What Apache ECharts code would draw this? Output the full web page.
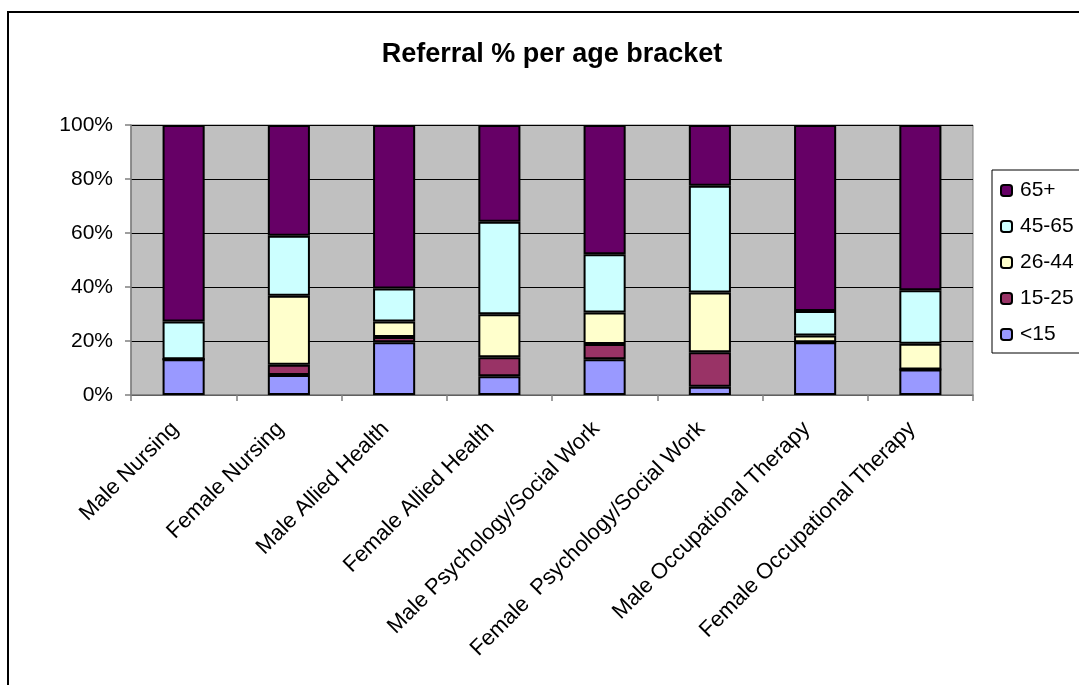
<!DOCTYPE html>
<html>
<head>
<meta charset="utf-8">
<script src="https://cdn.jsdelivr.net/npm/echarts@6/dist/echarts.min.js"></script>
<style>
  html, body { margin: 0; padding: 0; background: #fff; overflow: hidden; }
  #frame { position: absolute; left: 7px; top: 11px; width: 1100px; height: 700px; border: 2px solid #000; }
  #main { position: absolute; left: 0; top: 0; width: 1079px; height: 685px; }
</style>
</head>
<body>
<div id="frame"></div>
<div id="main"></div>
<script>
;
(function() {
  var categories = ['Male Nursing', 'Female Nursing', 'Male Allied Health', 'Female Allied Health',
    'Male Psychology/Social Work', 'Female  Psychology/Social Work', 'Male Occupational Therapy', 'Female Occupational Therapy'];
  var yTicks = [0, 20, 40, 60, 80, 100];

  // percent of referrals
  var under15 = [13.2, 7.4, 19.5, 6.9, 13.2, 3.1, 19.5, 9.4];
  var age15to25 = [0, 3.8, 2.0, 7.1, 5.7, 12.7, 0, 0];
  var age26to44 = [0, 25.6, 5.7, 15.9, 11.7, 22.2, 2.5, 9.6];
  var age45to65 = [14.0, 22.2, 12.2, 34.3, 21.5, 39.5, 9.1, 19.8];
  var age65plus = [72.8, 41.0, 60.6, 35.8, 47.9, 22.5, 68.9, 61.2];

  var seriesNames = ['<15', '15-25', '26-44', '45-65', '65+'];
  var seriesData = [under15, age15to25, age26to44, age45to65, age65plus];
  var colors = ['#9999FF', '#993366', '#FFFFCC', '#CCFFFF', '#660066'];

  var font = 'Arial, "Liberation Sans", sans-serif';

  var seriesList = [];
  for (var i = 0; i < seriesNames.length; i++) {
    seriesList.push({
      name: seriesNames[i],
      type: 'bar',
      stack: 'total',
      barWidth: '40%',
      itemStyle: { color: colors[i], borderColor: '#000', borderWidth: 2 },
      data: seriesData[i]
    });
  }

  var option = {
    animation: false,
    title: {
      text: 'Referral % per age bracket',
      left: 547,
      top: 36,
      textAlign: 'center',
      textStyle: { fontFamily: font, fontWeight: 'bold', fontSize: 27, color: '#000' }
    },
    legend: {
      orient: 'vertical',
      left: 992,
      top: 170,
      padding: [10, 12, 8, 8],
      itemGap: 15,
      itemWidth: 11,
      itemHeight: 11,
      borderColor: '#000',
      borderWidth: 1,
      data: ['65+', '45-65', '26-44', '15-25', '<15'],
      textStyle: { fontFamily: font, fontSize: 21, color: '#000', padding: [0, 0, 0, 3] }
    },
    grid: {
      left: 131,
      right: 106,
      top: 125,
      bottom: 290,
      show: true,
      backgroundColor: '#C0C0C0',
      borderColor: '#808080',
      borderWidth: 1
    },
    xAxis: {
      type: 'category',
      data: categories,
      axisLine: { lineStyle: { color: '#808080', width: 1.5 } },
      axisTick: { show: true, length: 6, lineStyle: { color: '#808080', width: 1.5 } },
      axisLabel: { rotate: 45, margin: 22, padding: [0, 12, 0, 0], interval: 0, fontFamily: font, fontSize: 22, color: '#000' }
    },
    yAxis: {
      type: 'value',
      min: yTicks[0],
      max: yTicks[yTicks.length - 1],
      interval: 20,
      axisLine: { show: true, lineStyle: { color: '#808080', width: 1.5 } },
      axisTick: { show: true, length: 6, lineStyle: { color: '#808080', width: 1.5 } },
      splitLine: { lineStyle: { color: '#000', width: 1 } },
      axisLabel: { margin: 18, fontFamily: font, fontSize: 21, color: '#000', formatter: '{value}%' }
    },
    series: seriesList
  };

  var myChart = echarts.init(document.getElementById('main'));
  myChart.setOption(option);
})();
</script>
</body>
</html>
